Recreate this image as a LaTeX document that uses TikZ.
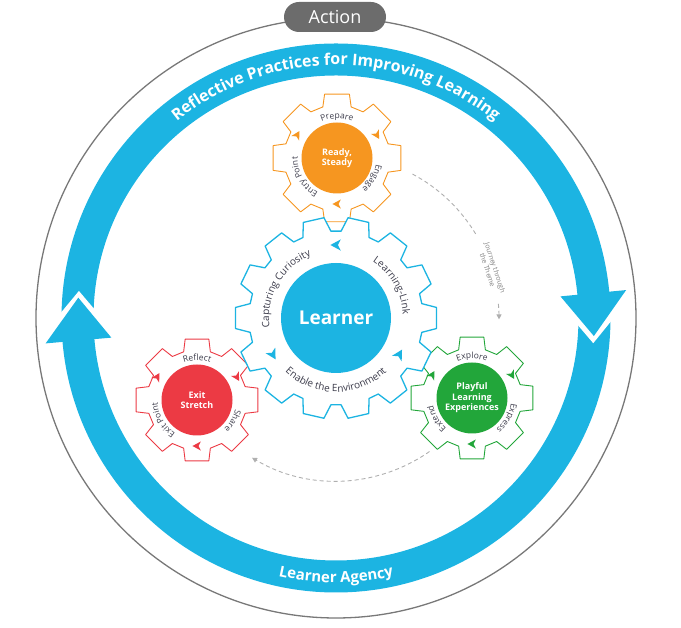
\documentclass[tikz,border=0pt]{standalone}
\usepackage{fontspec}
\setmainfont{Open Sans}
\usetikzlibrary{decorations.text,arrows.meta,calc}
\definecolor{lblue}{RGB}{28,180,226}
\definecolor{gorange}{RGB}{246,150,32}
\definecolor{gred}{RGB}{236,58,68}
\definecolor{ggreen}{RGB}{34,166,58}
\definecolor{actgray}{RGB}{108,108,108}
\definecolor{ringgray}{RGB}{120,120,120}
\definecolor{labgray}{RGB}{60,60,75}
\definecolor{dashgray}{RGB}{175,175,175}
\newcommand\fsLab{\fontsize{8.5}{9.5}\selectfont}
\newcommand\fsBlue{\fontsize{10}{12}\selectfont}
\newcommand\fsRing{\fontsize{16}{18}\selectfont\bfseries}
\newcommand\fsAgency{\fontsize{15}{17}\selectfont\bfseries}
% gear: center, last index, pitch, r tip, r root, tip half angle, root half angle, style
\newcommand\gearshape[8]{%
  \draw[#8, shift={(#1)}] (-#7:#5)
    \foreach \k in {0,...,#2}{ -- ({\k*#3-#7}:#5) -- ({\k*#3-#6}:#4) -- ({\k*#3+#6}:#4) -- ({\k*#3+#7}:#5) } -- cycle;}
% icon: center, angle, radius, style, rotation
\newcommand\gicon[5]{%
  \fill[shift={(#1)}, shift={(#2:#3)}, rotate=#5, #4] (3.5,0) -- (-3,3.5) -- (-1.2,0) -- (-3,-3.5) -- cycle;}
% text on arc: center, radius, start, end, font, colour, text
\newcommand\arclabel[7]{%
  \path[decorate, decoration={text along path, text align=center, text color=#6, text={|#5|#7}}]
    ($(#1)+(#3:#2)$) arc[start angle=#3, end angle=#4, radius=#2];}
\tikzset{
  geardraw/.style={fill=white, line join=round},
  hub/.style={circle, inner sep=0pt, text=white, font=\bfseries\fontsize{9}{10.5}\selectfont, align=center},
  dashline/.style={dashgray, line width=0.9pt, dash pattern=on 4pt off 3pt}
}
\begin{document}
\begin{tikzpicture}[x=1pt,y=1pt]
\useasboundingbox (0,0) rectangle (681,628);
\coordinate (Cb) at (336,310);
\coordinate (Co) at (337,470);
\coordinate (Cr) at (197,228);
\coordinate (Cg) at (472,230);
% outer ring and band
\draw[ringgray, line width=1.3pt] (Cb) circle[radius=300];
\draw[lblue, line width=32pt] (Cb) circle[radius=258.5];
% arrowheads
\fill[white] ($(Cb)+(4:223)$) -- ($(Cb)+(4:295)$) -- ($(Cb)+(-5.6:258.5)$) -- cycle;
\fill[lblue] ($(Cb)+(5.5:225.5)$) -- ($(Cb)+(5.5:291.5)$) -- ($(Cb)+(-4:258.5)$) -- cycle;
\fill[white] ($(Cb)+(183.5:223)$) -- ($(Cb)+(183.5:295)$) -- ($(Cb)+(174:258.5)$) -- cycle;
\fill[lblue] ($(Cb)+(185:225.5)$) -- ($(Cb)+(185:291.5)$) -- ($(Cb)+(175.5:258.5)$) -- cycle;
% band texts
\arclabel{Cb}{253}{160}{20}{\fsRing}{white}{Reflective Practices for Improving Learning}
\arclabel{Cb}{264.5}{225}{315}{\fsAgency}{white}{Learner Agency}
% action label
\node[fill=actgray, rounded corners=15pt, minimum width=102pt, minimum height=30pt, inner sep=0pt,
      text=white, font=\fontsize{18}{20}\selectfont] (action) at (335,611) {Action};
% dashed journeys
\coordinate (j1) at ($(Cb)+(62:163)$);
\coordinate (j2) at ($(Cb)+(5:163)$);
\coordinate (j3) at ($(Cb)+(-55:163)$);
\draw[dashline] (j1) arc[start angle=62, end angle=31, radius=163];
\draw[dashline, -{Triangle[length=5pt,width=5pt]}] (j2) arc[start angle=5, end angle=-0.5, radius=163];
\draw[dashline, -{Triangle[length=5pt,width=5pt]}] (j3) arc[start angle=-55, end angle=-121, radius=163];
\node[rotate=-72, text=gray, align=center, inner sep=0pt, font=\fontsize{7}{8}\selectfont] (journey)
  at ($(Cb)+(17.5:163)$) {Journey through\\the Theme};
% gears
\gearshape{Co}{7}{45}{65}{53}{11}{15.5}{gorange, line width=0.9pt, geardraw}
\gearshape{Cr}{7}{45}{62}{50}{11}{15.5}{gred, line width=0.9pt, geardraw}
\gearshape{Cg}{7}{45}{62}{50}{11}{15.5}{ggreen, line width=0.9pt, geardraw}
\gearshape{Cb}{13}{360/14}{101}{87}{6}{9.5}{lblue, line width=1.3pt, geardraw}
% hubs
\node[hub, fill=lblue, minimum size=110pt, font=\bfseries\fontsize{19}{22}\selectfont] (learner) at (Cb) {Learner};
\node[hub, fill=gorange, minimum size=71pt] (ready) at (Co) {Ready,\\Steady};
\node[hub, fill=gred, minimum size=71pt] (exit) at (Cr) {Exit\\Stretch};
\node[hub, fill=ggreen, minimum size=71pt] (playful) at (Cg) {Playful\\Learning\\Experiences};
% icons
\gicon{Cb}{90}{73}{lblue, scale=1.6}{180}
\gicon{Cb}{210}{73}{lblue, scale=1.6}{300}
\gicon{Cb}{330}{73}{lblue, scale=1.6}{60}
\foreach \cc/\col in {Co/gorange, Cr/gred, Cg/ggreen}{
  \gicon{\cc}{30}{46}{\col, scale=1.3}{-60}
  \gicon{\cc}{150}{46}{\col, scale=1.3}{60}
  \gicon{\cc}{270}{46}{\col, scale=1.3}{180}
}
% blue gear labels
\arclabel{Cb}{67}{215}{85}{\fsBlue}{labgray}{Capturing Curiosity}
\arclabel{Cb}{67}{95}{-35}{\fsBlue}{labgray}{Learning-Link}
\arclabel{Cb}{74}{200}{340}{\fsBlue}{labgray}{Enable the Environment}
% small gear labels
\arclabel{Co}{39.5}{150}{30}{\fsLab}{labgray}{Prepare}
\arclabel{Co}{39.5}{270}{150}{\fsLab}{labgray}{Entry Point}
\arclabel{Co}{39.5}{390}{270}{\fsLab}{labgray}{Engage}
\arclabel{Cr}{39.5}{150}{30}{\fsLab}{labgray}{Reflect}
\arclabel{Cr}{39.5}{270}{150}{\fsLab}{labgray}{Exit Point}
\arclabel{Cr}{39.5}{390}{270}{\fsLab}{labgray}{Share}
\arclabel{Cg}{39.5}{150}{30}{\fsLab}{labgray}{Explore}
\arclabel{Cg}{39.5}{270}{150}{\fsLab}{labgray}{Extend}
\arclabel{Cg}{39.5}{390}{270}{\fsLab}{labgray}{Express}
\end{tikzpicture}
\end{document}
